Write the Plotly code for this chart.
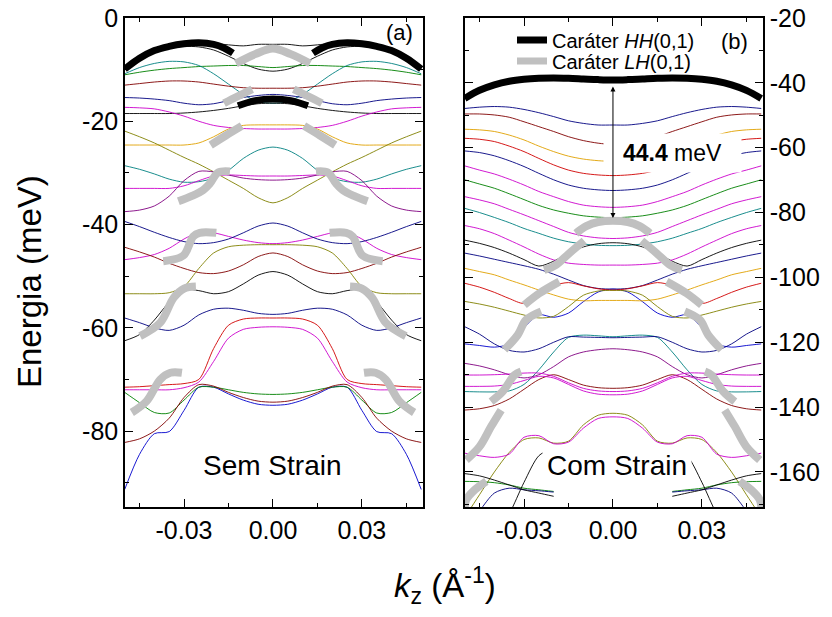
import plotly.graph_objects as go

# k grid (half, mirrored around k = 0)
k_half = [0.0, 0.005, 0.01, 0.015, 0.02, 0.025, 0.03, 0.035, 0.04, 0.045, 0.05]

# ---- (a) Sem Strain: thin bands, energies in meV at k_half ----
sem_b01 = [-5.1, -5.1, -5.4, -5.2, -4.9, -4.8, -4.9, -5.3, -6.3, -7.8, -9.8]
sem_b02 = [-10.3, -9.9, -8.8, -7.4, -6.2, -5.6, -5.5, -5.8, -6.8, -8.2, -10.0]
sem_b03 = [-9.6, -9.4, -9.2, -9.2, -9.3, -9.4, -9.6, -9.8, -10.1, -10.5, -11.0]
sem_b04 = [-16.5, -16.2, -14.8, -12.8, -10.8, -9.2, -8.5, -8.4, -8.8, -9.6, -10.8]
sem_b05 = [-13.6, -13.6, -13.5, -13.2, -12.8, -12.4, -12.2, -12.2, -12.4, -12.7, -13.0]
sem_b06 = [-14.8, -15.0, -15.4, -16.0, -16.6, -16.8, -16.5, -16.0, -15.7, -15.5, -15.4]
sem_b07 = [-16.5, -16.6, -17.0, -17.5, -17.9, -18.2, -18.4, -18.5, -18.5, -18.5, -18.5]
sem_b08 = [-21.5, -21.5, -21.4, -21.2, -20.8, -20.0, -19.0, -18.2, -17.6, -17.4, -17.3]
sem_b09 = [-20.7, -20.7, -20.8, -21.5, -23.0, -24.2, -24.6, -24.6, -24.6, -24.6, -24.6]
sem_b10 = [-35.8, -34.8, -33.0, -31.4, -29.8, -28.3, -27.0, -25.6, -24.2, -23.0, -21.9]
sem_b11 = [-25.0, -25.6, -27.2, -29.5, -31.0, -31.7, -31.8, -31.2, -30.2, -29.3, -28.6]
sem_b12 = [-30.6, -30.6, -30.5, -30.4, -30.6, -31.5, -32.5, -33.0, -33.0, -33.0, -33.0]
sem_b13 = [-31.4, -31.3, -31.0, -30.4, -29.8, -29.7, -31.5, -34.5, -36.4, -37.2, -37.5]
sem_b14 = [-43.7, -43.5, -43.0, -42.3, -41.6, -41.5, -42.8, -44.6, -45.8, -46.4, -46.8]
sem_b15 = [-39.7, -40.3, -41.6, -42.8, -43.5, -43.7, -43.3, -42.5, -41.5, -40.4, -39.4]
sem_b16 = [-45.5, -46.2, -47.8, -49.0, -49.5, -49.3, -48.5, -47.5, -46.3, -45.3, -44.4]
sem_b17 = [-43.9, -43.9, -44.0, -44.3, -45.5, -48.5, -52.0, -53.2, -53.4, -53.4, -53.4]
sem_b18 = [-49.1, -49.8, -51.5, -53.0, -53.4, -52.8, -52.6, -55.0, -58.5, -61.3, -62.5]
sem_b19 = [-57.4, -57.2, -56.6, -56.2, -56.4, -57.5, -59.5, -60.5, -60.0, -59.0, -58.1]
sem_b20 = [-58.1, -58.1, -58.3, -59.5, -64.0, -70.0, -70.8, -71.0, -71.2, -71.4, -71.5]
sem_b21 = [-59.8, -59.9, -60.3, -62.0, -66.5, -70.5, -71.6, -72.0, -72.0, -72.0, -72.0]
sem_b22 = [-75.0, -74.8, -74.0, -72.8, -71.5, -71.5, -76.0, -80.1, -80.5, -84.5, -91.3]
sem_b23 = [-72.9, -72.8, -72.5, -72.0, -71.5, -71.5, -74.0, -76.5, -76.4, -74.5, -72.5]
sem_b24 = [-74.4, -74.2, -73.5, -72.5, -71.3, -71.0, -73.5, -77.5, -80.0, -81.5, -82.2]

# ---- (b) Com Strain: thin bands ----
com_b01 = [-53.0, -53.0, -52.5, -51.7, -50.4, -49.2, -48.2, -47.5, -47.3, -47.5, -47.9]
com_b02 = [-59.0, -58.6, -57.8, -56.6, -55.0, -53.5, -52.0, -50.6, -49.9, -49.6, -49.6]
com_b03 = [-64.2, -64.0, -63.5, -62.6, -61.2, -59.5, -57.6, -56.1, -55.0, -54.5, -54.3]
com_b04 = [-68.6, -68.4, -67.9, -66.9, -65.3, -63.3, -61.2, -59.5, -58.1, -57.4, -57.1]
com_b05 = [-73.2, -73.0, -72.5, -71.5, -69.9, -67.9, -65.8, -64.0, -62.5, -61.5, -61.0]
com_b06 = [-78.4, -78.2, -77.7, -76.6, -75.1, -73.5, -71.5, -69.7, -68.1, -66.9, -65.6]
com_b07 = [-81.6, -81.4, -81.0, -80.2, -79.2, -77.8, -76.0, -74.2, -72.5, -71.2, -69.9]
com_b08 = [-88.0, -87.8, -87.2, -86.1, -84.3, -82.5, -80.7, -79.0, -77.3, -76.1, -75.1]
com_b09 = [-90.2, -90.1, -89.7, -89.0, -87.9, -86.4, -84.9, -83.1, -81.5, -80.0, -78.7]
com_b10 = [-89.3, -89.6, -90.6, -92.5, -95.0, -96.5, -94.5, -92.5, -90.8, -89.5, -88.5]
com_b11 = [-96.2, -96.2, -96.0, -95.6, -94.6, -92.8, -90.6, -88.5, -86.5, -85.0, -84.0]
com_b12 = [-103.6, -103.4, -102.5, -100.8, -99.0, -97.5, -96.4, -95.4, -94.4, -93.4, -92.5]
com_b13 = [-103.6, -104.5, -107.5, -111.0, -112.3, -111.5, -115.5, -120.5, -121.5, -121.0, -120.5]
com_b14 = [-107.1, -107.1, -107.2, -106.7, -105.4, -103.9, -102.3, -100.8, -99.2, -98.2, -97.2]
com_b15 = [-103.9, -103.5, -102.6, -101.6, -102.5, -105.0, -108.0, -106.5, -104.6, -103.0, -101.8]
com_b16 = [-104.0, -104.2, -105.5, -109.0, -112.0, -112.5, -111.6, -110.4, -109.2, -108.2, -107.4]
com_b17 = [-118.3, -118.0, -117.8, -118.5, -123.0, -128.5, -133.0, -135.0, -135.3, -135.3, -135.2]
com_b18 = [-118.6, -118.5, -118.4, -118.3, -120.0, -122.0, -123.0, -122.5, -120.5, -117.5, -115.2]
com_b19 = [-122.0, -122.3, -123.0, -124.5, -127.5, -130.0, -131.0, -130.0, -128.5, -127.3, -126.5]
com_b20 = [-134.2, -134.0, -133.2, -131.5, -130.0, -131.5, -134.5, -137.5, -139.5, -140.5, -140.9]
com_b21 = [-135.2, -135.0, -134.2, -132.5, -130.5, -129.5, -129.5, -129.8, -130.0, -130.1, -130.1]
com_b22 = [-136.2, -136.0, -135.0, -133.0, -131.0, -130.5, -131.8, -133.0, -133.5, -133.6, -133.6]
com_b23 = [-141.9, -142.5, -145.5, -150.5, -151.1, -149.5, -150.0, -154.0, -160.0, -167.0, -174.0]
com_b24 = [-143.0, -143.5, -146.5, -150.8, -151.3, -148.8, -149.3, -154.5, -155.5, -155.0, -154.2]
com_b25 = [None, None, None, None, -166.0, -165.5, -165.0, -164.0, -163.3, -163.0, -162.9]
com_b26 = [None, None, None, None, -166.2, -165.8, -165.5, -165.0, -166.5, -172.0, -178.0]
com_b27 = [None, None, None, None, -152.5, -155.0, -163.2, -173.0, -180.0, -185.0, -190.0]
com_b28 = [None, None, None, None, -167.5, -166.5, -165.5, -164.0, -162.5, -161.2, -160.5]

# ---- thick character segments (negative-k side, mirrored) ----
sem_hh_edge_k = [-0.05, -0.045, -0.04, -0.035, -0.03, -0.025, -0.02, -0.0165, -0.0135]
sem_hh_edge_e = [-9.9, -7.8, -6.3, -5.5, -5.0, -4.8, -5.1, -5.8, -6.8]
sem_hh_mid_k = [-0.0118, -0.006, 0.0]
sem_hh_mid_e = [-17.0, -16.0, -15.7]

sem_lh_mid_k = [-0.0125, -0.006, 0.0]
sem_lh_mid_e = [-8.8, -7.0, -5.9]
sem_lh2_k = [-0.0165, -0.012, -0.007]
sem_lh2_e = [-16.5, -15.2, -13.8]
sem_lh3_k = [-0.021, -0.016, -0.0105]
sem_lh3_e = [-24.6, -22.8, -20.9]
sem_lh4_k = [-0.0319, -0.0275, -0.0235, -0.0212, -0.0185, -0.0145]
sem_lh4_e = [-35.5, -34.5, -33.3, -32.0, -29.9, -29.7]
sem_lh5_k = [-0.037, -0.0302, -0.0269, -0.0247, -0.0191]
sem_lh5_e = [-47.1, -46.0, -42.3, -41.6, -41.6]
sem_lh6_k = [-0.0448, -0.038, -0.0335, -0.030, -0.026]
sem_lh6_e = [-61.6, -59.0, -54.2, -52.4, -52.0]
sem_lh7_k = [-0.0476, -0.0426, -0.038, -0.0346, -0.0307]
sem_lh7_e = [-76.4, -74.2, -70.0, -68.7, -68.7]

com_hh = [-39.1, -39.0, -38.8, -38.6, -38.5, -38.6, -38.9, -39.5, -40.6, -42.3, -44.8]
com_lh_mid_k = [-0.0125, -0.009, -0.005, 0.0]
com_lh_mid_e = [-86.4, -84.2, -82.9, -82.5]
com_lh2_k = [-0.0232, -0.0193, -0.0148, -0.0097]
com_lh2_e = [-97.7, -96.2, -92.6, -88.7]
com_lh3_k = [-0.0299, -0.0248, -0.0181]
com_lh3_e = [-108.5, -104.9, -101.3]
com_lh4_k = [-0.0366, -0.0321, -0.0293, -0.0242]
com_lh4_e = [-122.3, -117.7, -113.1, -110.5]
com_lh5_k = [-0.0411, -0.0372, -0.0332, -0.031]
com_lh5_e = [-138.3, -135.2, -130.1, -129.0]
com_lh6_k = [-0.0495, -0.045, -0.0411, -0.0377]
com_lh6_e = [-156.3, -152.2, -146.0, -140.9]
com_lh7_k = [-0.05, -0.0495, -0.0466, -0.0427]
com_lh7_e = [-171.0, -168.6, -165.5, -162.9]

# tick labels
x_ticks = [-0.03, 0.0, 0.03]
x_ticktext = ["-0.03", "0.00", "0.03"]
sem_yticks = [0, -20, -40, -60, -80]
com_yticks = [-20, -40, -60, -80, -100, -120, -140, -160]

BLACK, RED, WINE, GREEN, BLUE, NAVY = "#000000", "#d00000", "#800000", "#008000", "#0000cc", "#000080"
MAGENTA, PURPLE, TEAL, OLIVE, ORANGE = "#cc00cc", "#800080", "#008080", "#808000", "#e0a000"
HH_COLOR, LH_COLOR = "#000000", "#c0c0c0"

sem_bands = [
    (sem_b01, BLACK), (sem_b02, BLACK), (sem_b03, GREEN), (sem_b04, TEAL),
    (sem_b05, WINE), (sem_b06, NAVY), (sem_b07, BLACK), (sem_b08, MAGENTA),
    (sem_b09, ORANGE), (sem_b10, OLIVE), (sem_b11, TEAL), (sem_b12, MAGENTA),
    (sem_b13, PURPLE), (sem_b14, MAGENTA), (sem_b15, NAVY), (sem_b16, WINE),
    (sem_b17, OLIVE), (sem_b18, BLACK), (sem_b19, NAVY), (sem_b20, RED),
    (sem_b21, MAGENTA), (sem_b22, BLUE), (sem_b23, GREEN), (sem_b24, WINE),
]
com_bands = [
    (com_b01, NAVY), (com_b02, WINE), (com_b03, ORANGE), (com_b04, RED),
    (com_b05, NAVY), (com_b06, MAGENTA), (com_b07, GREEN), (com_b08, MAGENTA),
    (com_b09, TEAL), (com_b10, BLACK), (com_b11, MAGENTA), (com_b12, NAVY),
    (com_b13, BLUE), (com_b14, ORANGE), (com_b15, RED), (com_b16, OLIVE),
    (com_b17, TEAL), (com_b18, NAVY), (com_b19, PURPLE), (com_b20, WINE),
    (com_b21, MAGENTA), (com_b22, MAGENTA), (com_b23, OLIVE), (com_b24, MAGENTA),
    (com_b25, GREEN), (com_b26, NAVY), (com_b27, BLACK), (com_b28, BLACK),
]


def mirror(half):
    return half[::-1] + half[1:]


k_full = [-v for v in k_half[::-1]] + k_half[1:]


def both_sides(k, e):
    # left piece and its mirror image on the right
    return [(k, e), ([-v for v in k], e)]


def across_center(k, e):
    return [(k + [-v for v in k[-2::-1]], e + e[-2::-1])]


fig = go.Figure()

for bands, xa, ya in ((sem_bands, "x", "y"), (com_bands, "x2", "y2")):
    for vals, col in bands:
        fig.add_trace(go.Scatter(
            x=k_full, y=mirror(vals), mode="lines", xaxis=xa, yaxis=ya,
            line=dict(color=col, width=0.9, shape="spline", smoothing=0.8),
            showlegend=False, hoverinfo="skip"))

sem_lh = (across_center(sem_lh_mid_k, sem_lh_mid_e) + both_sides(sem_lh2_k, sem_lh2_e)
          + both_sides(sem_lh3_k, sem_lh3_e) + both_sides(sem_lh4_k, sem_lh4_e)
          + both_sides(sem_lh5_k, sem_lh5_e) + both_sides(sem_lh6_k, sem_lh6_e)
          + both_sides(sem_lh7_k, sem_lh7_e))
sem_hh = both_sides(sem_hh_edge_k, sem_hh_edge_e) + across_center(sem_hh_mid_k, sem_hh_mid_e)
com_lh = (across_center(com_lh_mid_k, com_lh_mid_e) + both_sides(com_lh2_k, com_lh2_e)
          + both_sides(com_lh3_k, com_lh3_e) + both_sides(com_lh4_k, com_lh4_e)
          + both_sides(com_lh5_k, com_lh5_e) + both_sides(com_lh6_k, com_lh6_e)
          + both_sides(com_lh7_k, com_lh7_e))
com_hh_pieces = [(k_full, mirror(com_hh))]

for pieces, xa, ya in ((sem_lh, "x", "y"), (com_lh, "x2", "y2")):
    for k, e in pieces:
        fig.add_trace(go.Scatter(
            x=k, y=e, mode="lines", xaxis=xa, yaxis=ya,
            line=dict(color=LH_COLOR, width=8, shape="spline"),
            showlegend=False, hoverinfo="skip"))

for pieces, xa, ya in ((sem_hh, "x", "y"), (com_hh_pieces, "x2", "y2")):
    for k, e in pieces:
        fig.add_trace(go.Scatter(
            x=k, y=e, mode="lines", xaxis=xa, yaxis=ya,
            line=dict(color=HH_COLOR, width=7, shape="spline"),
            showlegend=False, hoverinfo="skip"))

# legend entries (two legends so the rows can sit close together)
fig.add_trace(go.Scatter(x=[None], y=[None], mode="lines", xaxis="x2", yaxis="y2",
                         name="Caráter <i>HH</i>(0,1)", legend="legend",
                         line=dict(color=HH_COLOR, width=7)))
fig.add_trace(go.Scatter(x=[None], y=[None], mode="lines", xaxis="x2", yaxis="y2",
                         name="Caráter <i>LH</i>(0,1)", legend="legend2",
                         line=dict(color=LH_COLOR, width=7)))

FONT = "Liberation Sans, Arial, sans-serif"
W, H = 832, 617


def px(x):
    return x / W


def py(y):
    return 1 - y / H


xcommon = dict(range=[-0.0499, 0.0506], showline=True, linecolor="black", linewidth=1.5,
               mirror="allticks", ticks="inside", ticklen=8, tickwidth=1.2, tickcolor="black",
               tickvals=x_ticks, ticktext=x_ticktext, showgrid=False, zeroline=False,
               automargin=False, ticklabeloverflow="allow",
               tickfont=dict(size=25, color="black"),
               minor=dict(tickvals=[-0.045, -0.015, 0.015, 0.045], ticks="inside",
                          ticklen=4, tickcolor="black", showgrid=False))
ycommon = dict(showline=True, linecolor="black", linewidth=1.5, mirror="allticks",
               ticks="inside", ticklen=8, tickwidth=1.2, tickcolor="black",
               showgrid=False, zeroline=False, automargin=False,
               ticklabeloverflow="allow", tickfont=dict(size=25, color="black"))
legend_common = dict(xanchor="left", yanchor="middle", bgcolor="rgba(0,0,0,0)",
                     font=dict(size=20, color="black"), itemclick=False)

fig.update_layout(
    template="none",
    width=W, height=H, margin=dict(l=0, r=0, t=0, b=0, autoexpand=False),
    paper_bgcolor="white", plot_bgcolor="white",
    font=dict(family=FONT, color="black"),
    xaxis=dict(domain=[px(125), px(423)], anchor="y", **xcommon),
    xaxis2=dict(domain=[px(465), px(763)], anchor="y2", **xcommon),
    yaxis=dict(domain=[py(507), py(18)], anchor="x", range=[-94.7, 0],
               tickvals=sem_yticks, ticktext=[str(v) for v in sem_yticks],
               minor=dict(tickvals=[-10, -30, -50, -70, -90], ticks="inside",
                          ticklen=4, tickcolor="black", showgrid=False),
               **ycommon),
    yaxis2=dict(domain=[py(507), py(18)], anchor="x2", side="right",
                range=[-170.8, -20],
                tickvals=com_yticks, ticktext=[str(v) for v in com_yticks],
                minor=dict(tickvals=[-30, -50, -70, -90, -110, -130, -150, -170],
                           ticks="inside", ticklen=4, tickcolor="black", showgrid=False),
                **ycommon),
    showlegend=True,
    legend=dict(x=px(512), y=py(40), **legend_common),
    legend2=dict(x=px(512), y=py(61), **legend_common),
)

centered = dict(xref="paper", yref="paper", xanchor="center", yanchor="middle",
                showarrow=False)
annotations = [
    dict(text="Energia (meV)", x=px(29), y=py(282), textangle=-90,
         font=dict(size=33), **centered),
    dict(text="<i>k</i><sub>z</sub> (Å<sup>-1</sup>)", x=px(445), y=py(585),
         font=dict(size=33), **centered),
    dict(text="(a)", x=px(399), y=py(32), font=dict(size=22), **centered),
    dict(text="(b)", x=px(734), y=py(42), font=dict(size=22), **centered),
    dict(text="Sem Strain", x=px(272), y=py(465), font=dict(size=28), **centered),
    dict(text="Com Strain", x=px(617), y=py(465), font=dict(size=28),
         bgcolor="white", borderpad=4, **centered),
    dict(text="<b>44.4</b> meV", x=0.020, y=-61.6, xref="x2", yref="y2",
         xanchor="center", yanchor="middle", showarrow=False,
         font=dict(size=23), bgcolor="white", width=135, height=36),
    dict(text="", x=0.0, y=-81.7, ax=0.0, ay=-40.7, xref="x2", yref="y2",
         axref="x2", ayref="y2", showarrow=True, arrowhead=2, arrowside="end+start",
         arrowsize=1, arrowwidth=1, arrowcolor="black"),
]
fig.update_layout(annotations=annotations)

# the page's default body margin would push the figure 8px in; remove it
fig.write_html("out.html",
               config={"displayModeBar": False},
               post_script="document.body.style.margin='0';"
                           "document.body.style.overflow='hidden';")
